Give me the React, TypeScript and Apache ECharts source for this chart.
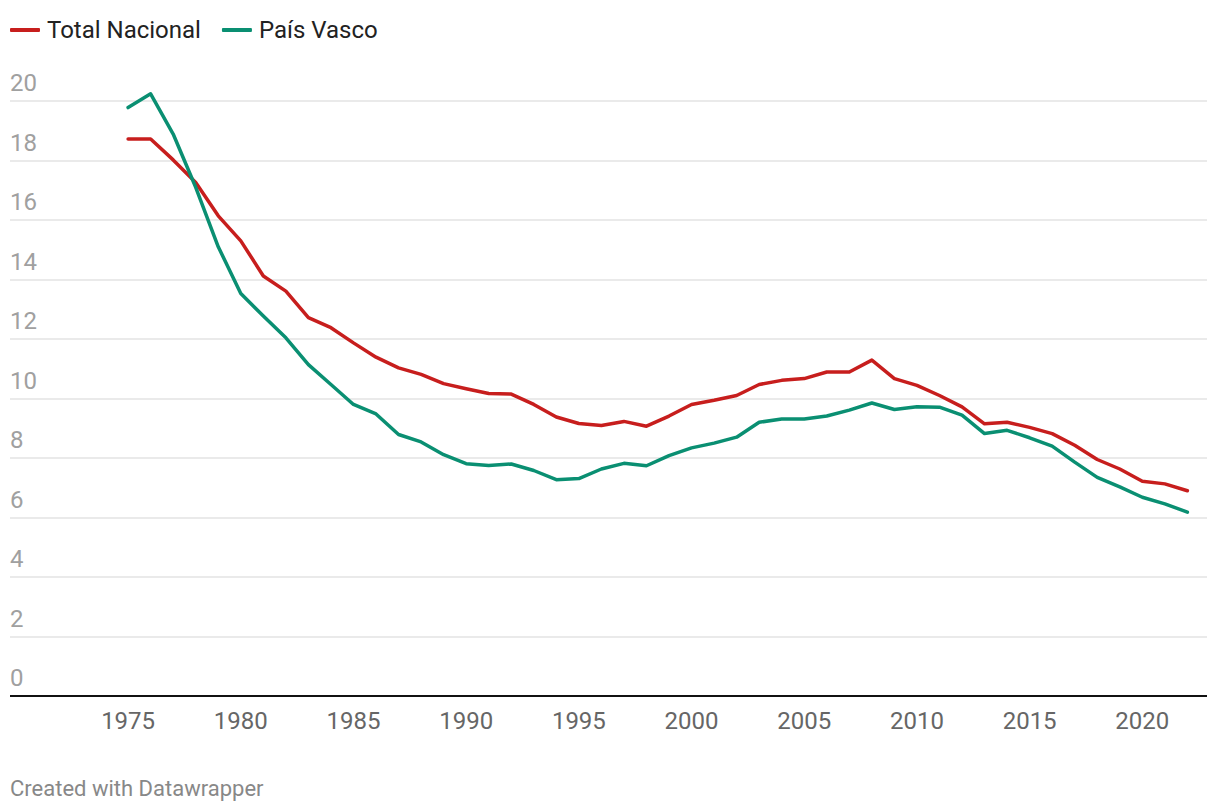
import React, { useEffect, useRef } from "react";
import * as echarts from "echarts";

const years = [1975,1976,1977,1978,1979,1980,1981,1982,1983,1984,1985,1986,1987,1988,1989,1990,1991,1992,1993,1994,1995,1996,1997,1998,1999,2000,2001,2002,2003,2004,2005,2006,2007,2008,2009,2010,2011,2012,2013,2014,2015,2016,2017,2018,2019,2020,2021,2022];

const totalNacional = [18.72,18.72,18.02,17.26,16.14,15.3,14.12,13.61,12.72,12.38,11.87,11.39,11.03,10.81,10.5,10.33,10.17,10.15,9.8,9.38,9.16,9.09,9.23,9.07,9.41,9.8,9.94,10.1,10.47,10.61,10.67,10.89,10.89,11.29,10.67,10.44,10.1,9.72,9.15,9.2,9.03,8.82,8.43,7.95,7.63,7.22,7.13,6.9];

const paisVasco = [19.78,20.24,18.89,17.1,15.1,13.53,12.77,12.04,11.14,10.47,9.8,9.48,8.79,8.54,8.11,7.81,7.75,7.8,7.58,7.27,7.31,7.63,7.82,7.74,8.08,8.34,8.5,8.7,9.2,9.31,9.31,9.41,9.61,9.85,9.63,9.72,9.71,9.44,8.82,8.93,8.68,8.4,7.86,7.35,7.03,6.68,6.46,6.18];

const xTickLabels = [1975,1980,1985,1990,1995,2000,2005,2010,2015,2020];

const seriesNames = ["Total Nacional", "País Vasco"];
const seriesColors = ["#c71e1d", "#0a8f72"];

export default function App() {
  const ref = useRef<HTMLDivElement>(null);
  useEffect(() => {
    document.body.style.margin = "0";
    const chart = echarts.init(ref.current!, null, { renderer: "svg" });
    const font = "Roboto, 'Noto Sans', sans-serif";
    const datasets = [totalNacional, paisVasco];
    chart.setOption({
      animation: false,
      textStyle: { fontFamily: font },
      legend: {
        left: 10,
        top: 18,
        padding: 0,
        itemWidth: 30,
        itemHeight: 4,
        itemGap: 21,
        icon: "roundRect",
        textStyle: { fontSize: 24, color: "#222", fontFamily: font, padding: [0, 0, 0, 2] },
        data: seriesNames,
      },
      grid: { left: 10, right: 13, top: 101, bottom: 116, containLabel: false },
      xAxis: {
        type: "value",
        min: 1969.76,
        max: 2022.87,
        axisLine: { show: false },
        axisTick: { show: false },
        splitLine: { show: false },
        axisLabel: {
          customValues: xTickLabels,
          fontSize: 24,
          color: "#666",
          fontFamily: font,
          margin: 13,
          formatter: (v: number) => String(v),
        },
      },
      yAxis: {
        type: "value",
        min: 0,
        max: 20,
        interval: 2,
        axisLine: { show: false },
        axisTick: { show: false },
        splitLine: { lineStyle: { color: "#e3e3e3", width: 1.5 } },
        axisLabel: {
          inside: true,
          margin: 0,
          align: "left",
          verticalAlign: "bottom",
          padding: [0, 0, 6, 0],
          fontSize: 24,
          color: "#a0a0a0",
          fontFamily: font,
        },
      },
      graphic: [
        {
          type: "line",
          shape: { x1: 10, y1: 696, x2: 1207, y2: 696 },
          style: { stroke: "#111", lineWidth: 2 },
          z: 10,
        },
        {
          type: "text",
          left: 10,
          top: 777,
          style: { text: "Created with Datawrapper", fontSize: 22, fill: "#888", fontFamily: font },
        },
      ],
      series: seriesNames.map((name, i) => ({
        name,
        type: "line",
        clip: false,
        data: years.map((y, j) => [y, datasets[i][j]]),
        showSymbol: false,
        symbol: "none",
        lineStyle: { width: 3.5, color: seriesColors[i], cap: "round", join: "round" },
        itemStyle: { color: seriesColors[i] },
        z: 5,
      })),
    });
    return () => chart.dispose();
  }, []);
  return <div ref={ref} style={{ width: 1220, height: 812 }} />;
}
